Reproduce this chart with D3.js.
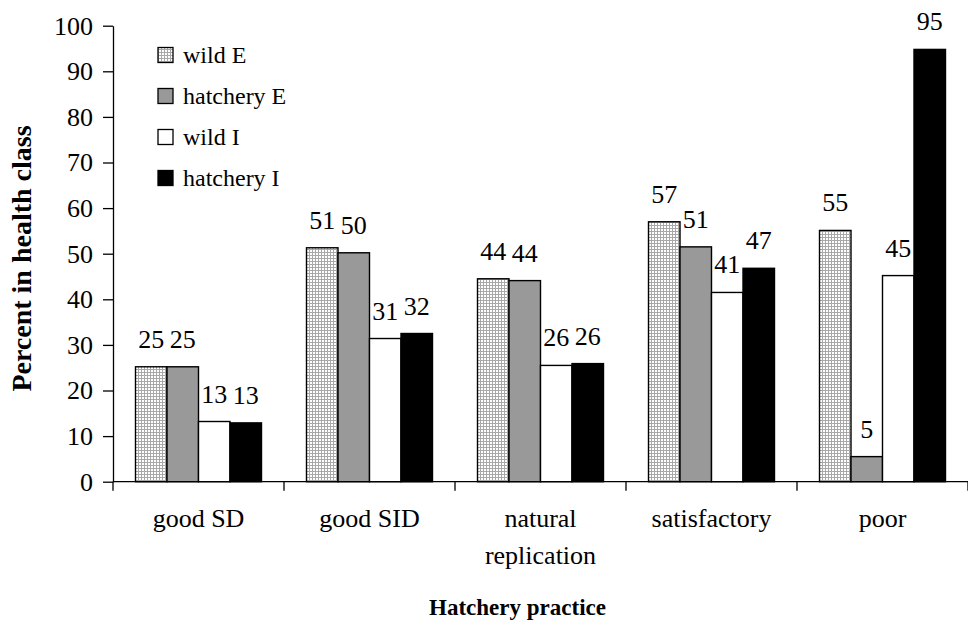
<!DOCTYPE html>
<html><head><meta charset="utf-8"><script src="https://cdn.jsdelivr.net/npm/d3@7"></script></head>
<body style="margin:0">
<svg id="chart" width="968" height="627" style="display:block"></svg>
<script>
const categories = [["good SD"], ["good SID"], ["natural", "replication"], ["satisfactory"], ["poor"]];
const categoryKeys = ["good SD", "good SID", "natural replication", "satisfactory", "poor"];
const seriesNames = ["wild E", "hatchery E", "wild I", "hatchery I"];
const wildE = [25.2, 51.3, 44.5, 57.0, 55.1];
const hatcheryE = [25.2, 50.2, 44.1, 51.5, 5.5];
const wildI = [13.2, 31.4, 25.5, 41.5, 45.2];
const hatcheryI = [12.9, 32.5, 25.9, 46.8, 94.8];
const wildELabels = [25, 51, 44, 57, 55];
const hatcheryELabels = [25, 50, 44, 51, 5];
const wildILabels = [13, 31, 26, 41, 45];
const hatcheryILabels = [13, 32, 26, 47, 95];
const yTicks = [0, 10, 20, 30, 40, 50, 60, 70, 80, 90, 100];
const yTitle = "Percent in health class";
const xTitle = "Hatchery practice";

const FONT = "Liberation Serif";
const seriesValues = [wildE, hatcheryE, wildI, hatcheryI];
const seriesLabels = [wildELabels, hatcheryELabels, wildILabels, hatcheryILabels];
const fills = ["url(#dots)", "#999999", "#ffffff", "#000000"];

const svg = d3.select("#chart");
const defs = svg.append("defs");
const pat = defs.append("pattern").attr("id", "dots")
  .attr("patternUnits", "userSpaceOnUse").attr("width", 3).attr("height", 3);
pat.append("rect").attr("width", 3).attr("height", 3).attr("fill", "#ffffff");
pat.append("rect").attr("x", 0).attr("y", 0).attr("width", 3).attr("height", 1).attr("fill", "#a8a8a8");
pat.append("rect").attr("x", 0).attr("y", 0).attr("width", 1).attr("height", 3).attr("fill", "#a8a8a8");

const mLeft = 113, mRight = 968, mTop = 25.7, mBottom = 481.7;

const x = d3.scaleBand().domain(categoryKeys).range([mLeft, mRight]).paddingInner(0).paddingOuter(0);
const bw = x.bandwidth();
const x1 = d3.scaleBand().domain(seriesNames).range([bw * 0.1316, bw * 0.8684]).padding(0);
const y = d3.scaleLinear().domain([0, 100]).range([mBottom, mTop]);

const rows = [];
seriesNames.forEach((s, si) => {
  categoryKeys.forEach((c, ci) => {
    rows.push({ s, si, c, v: seriesValues[si][ci], lab: seriesLabels[si][ci] });
  });
});

// Bars
svg.append("g").selectAll("rect").data(rows).join("rect")
  .attr("x", d => x(d.c) + x1(d.s))
  .attr("y", d => y(d.v))
  .attr("width", x1.bandwidth())
  .attr("height", d => y(0) - y(d.v))
  .attr("fill", d => fills[d.si])
  .attr("stroke", "#000")
  .attr("stroke-width", 1.4);

// Data labels: each in its own translated group
const dlg = svg.append("g").attr("class", "datalabels");
const dli = dlg.selectAll("g").data(rows).join("g")
  .attr("transform", d => `translate(${x(d.c) + x1(d.s) + x1.bandwidth() / 2},${y(d.v) - 19})`);
dli.append("text")
  .attr("x", 0).attr("y", 0)
  .attr("text-anchor", "middle")
  .style("font-family", FONT)
  .style("font-size", "26px")
  .attr("fill", "#000")
  .text(d => d.lab);

// Y axis
const yAxis = d3.axisLeft(y).tickValues(yTicks).tickSize(10).tickSizeOuter(0).tickPadding(10);
const yg = svg.append("g").attr("transform", `translate(${mLeft},0)`).call(yAxis);
yg.select(".domain").attr("stroke", "#000").attr("stroke-width", 1.3);
yg.selectAll(".tick line").attr("stroke", "#000").attr("stroke-width", 1.3);
yg.selectAll(".tick text").style("font-family", FONT).style("font-size", "26px").attr("fill", "#000");

// X axis line + boundary ticks
svg.append("line").attr("x1", mLeft).attr("x2", mRight).attr("y1", mBottom).attr("y2", mBottom)
  .attr("stroke", "#000").attr("stroke-width", 1.3);
const bounds = categoryKeys.map(c => x(c)).concat([x(categoryKeys[categoryKeys.length - 1]) + bw]);
svg.append("g").selectAll("line").data(bounds).join("line")
  .attr("x1", d => d).attr("x2", d => d)
  .attr("y1", mBottom).attr("y2", mBottom + 9)
  .attr("stroke", "#000").attr("stroke-width", 1.3);

// Category labels via a bottom axis (labels only)
const xAxis = d3.axisBottom(x).tickSize(0).tickSizeOuter(0).tickPadding(0).tickFormat("");
const xg = svg.append("g").attr("transform", `translate(0,${mBottom})`).call(xAxis);
xg.select(".domain").remove();
xg.selectAll(".tick").each(function (d, i) {
  const t = d3.select(this).select("text");
  t.attr("dy", null).attr("y", 527 - mBottom)
    .style("font-family", FONT).style("font-size", "26px").attr("fill", "#000");
  t.selectAll("tspan").data(categories[i]).join("tspan")
    .attr("x", 0)
    .attr("dy", (s, j) => j === 0 ? 0 : 37)
    .text(s => s);
});

// Axis titles
svg.append("g").attr("transform", `translate(${(mLeft + mRight) / 2 - 23},615)`)
  .append("text")
  .attr("x", 0).attr("y", 0)
  .attr("text-anchor", "middle")
  .style("font-family", FONT)
  .style("font-size", "23px").style("font-weight", "bold")
  .attr("fill", "#000")
  .text(xTitle);

svg.append("g").attr("transform", `translate(31,${(112 + 405) / 2}) rotate(-90)`)
  .append("text")
  .attr("x", 0).attr("y", 0)
  .attr("text-anchor", "middle")
  .style("font-family", FONT)
  .style("font-size", "28px").style("font-weight", "bold")
  .attr("fill", "#000")
  .text(yTitle);

// Legend
const lg = svg.append("g");
const legendY = d3.scalePoint().domain(seriesNames).range([55, 178]);
const li = lg.selectAll("g").data(seriesNames).join("g")
  .attr("transform", d => `translate(158,${legendY(d)})`);
li.append("rect")
  .attr("x", 0).attr("y", -7.5).attr("width", 15).attr("height", 15)
  .attr("fill", (d, i) => fills[i]).attr("stroke", "#000").attr("stroke-width", 1.3);
li.append("text")
  .attr("x", 25).attr("y", 8)
  .style("font-family", FONT)
  .style("font-size", "24px")
  .attr("fill", "#000")
  .text(d => d);
</script>
</body>
</html>
